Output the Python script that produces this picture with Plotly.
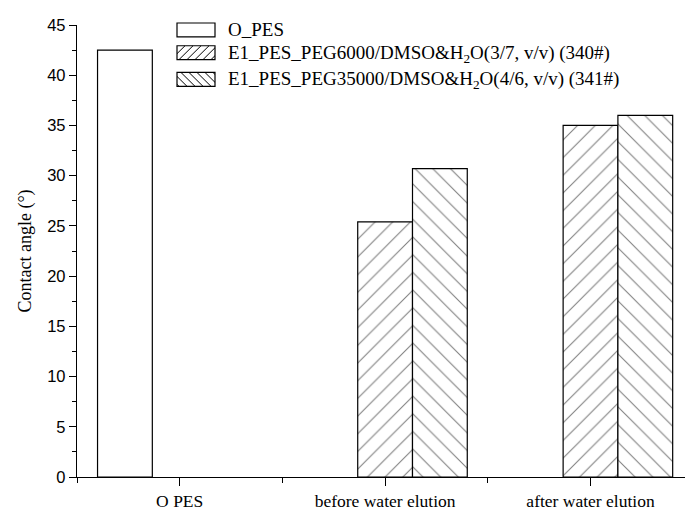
import plotly.graph_objects as go

# Categories on the x axis and contact angles (degrees) per membrane
categories = ["O PES", "before water elution", "after water elution"]
series_names = [
    "O_PES",
    "E1_PES_PEG6000/DMSO&amp;H<sub>2</sub>O(3/7, v/v) (340#)",
    "E1_PES_PEG35000/DMSO&amp;H<sub>2</sub>O(4/6, v/v) (341#)",
]
o_pes = [42.5, None, None]
pes_340 = [None, 25.4, 35.0]
pes_341 = [None, 30.7, 36.0]
patterns = ["", "/", "\\"]
y_ticks = [0, 5, 10, 15, 20, 25, 30, 35, 40, 45]

W, H = 685, 511
ML, MR, MT, MB = 77, 0, 25, 29
SERIF = "Liberation Serif, Times New Roman, serif"
SANS = "Liberation Sans, Arial, sans-serif"

x_pos = list(range(len(categories)))
fig = go.Figure()
for name, vals, pat in zip(series_names, [o_pes, pes_340, pes_341], patterns):
    fig.add_trace(go.Bar(
        x=x_pos, y=vals, name=name, showlegend=False,
        marker=dict(
            color="white",
            line=dict(color="black", width=1.2),
            pattern=dict(shape=pat, fgcolor="black", bgcolor="white",
                         size=12.5, solidity=0.085),
        ),
    ))

# Hand-drawn legend: wide swatches with hatching, text to the right
pw, ph = W - ML - MR, H - MT - MB


def px_to_paper(px, py):
    return (px - ML) / pw, (H - MB - py) / ph


shapes = []
annotations = []
sw_left, sw_w, sw_h = 177, 38, 14
row_centers = [30, 53, 80]
text_centers = [30, 54, 81]
step = 8
for name, pat, cy, ty_px in zip(series_names, patterns, row_centers, text_centers):
    top = cy - sw_h / 2
    x0, y0 = px_to_paper(sw_left, top + sw_h)
    x1, y1 = px_to_paper(sw_left + sw_w, top)
    # hatching inside the swatch (local coords, y up from swatch bottom)
    if pat:
        c = -sw_h
        while c <= sw_w + sw_h:
            if pat == "/":
                xa, xb = max(0, c), min(sw_w, sw_h + c)
                pts = [(xa, xa - c), (xb, xb - c)]
            else:
                xa, xb = max(0, c - sw_h), min(sw_w, c)
                pts = [(xa, c - xa), (xb, c - xb)]
            if xb > xa + 0.5:
                (ax, ay), (bx, by) = pts
                pa = px_to_paper(sw_left + ax, top + sw_h - ay)
                pb = px_to_paper(sw_left + bx, top + sw_h - by)
                shapes.append(dict(type="line", xref="paper", yref="paper",
                                   x0=pa[0], y0=pa[1], x1=pb[0], y1=pb[1],
                                   line=dict(color="black", width=1)))
            c += step
    shapes.append(dict(type="rect", xref="paper", yref="paper",
                       x0=x0, y0=y0, x1=x1, y1=y1,
                       line=dict(color="black", width=1.2)))
    tx, ty = px_to_paper(226, ty_px)
    annotations.append(dict(xref="paper", yref="paper", x=tx, y=ty,
                            xanchor="left", yanchor="middle", showarrow=False,
                            text=name, font=dict(family=SERIF, size=19, color="black")))

fig.update_layout(
    width=W, height=H,
    margin=dict(l=ML, r=MR, t=MT, b=MB),
    paper_bgcolor="white", plot_bgcolor="white",
    barmode="group", bargap=0.2, bargroupgap=0,
    shapes=shapes, annotations=annotations,
    xaxis=dict(
        range=[-0.5, 2.46], tickvals=x_pos, ticktext=categories,
        showline=True, linecolor="black", linewidth=1.3,
        ticks="outside", ticklen=8, tickwidth=1.3, tickcolor="black",
        minor=dict(dtick=0.5, tick0=0, ticks="outside", ticklen=5,
                   tickwidth=1.3, tickcolor="black"),
        showgrid=False, zeroline=False,
        tickfont=dict(family=SERIF, size=17.5, color="black"),
    ),
    yaxis=dict(
        range=[0, 45], tickvals=y_ticks,
        showline=True, linecolor="black", linewidth=1.3,
        ticks="outside", ticklen=7, tickwidth=1.3, tickcolor="black",
        minor=dict(dtick=2.5, tick0=0, ticks="outside", ticklen=4,
                   tickwidth=1.3, tickcolor="black"),
        showgrid=False, zeroline=False,
        tickfont=dict(family=SANS, size=16.5, color="black"),
        title=dict(text="Contact angle (°)", standoff=10,
                   font=dict(family=SERIF, size=18, color="black")),
    ),
)

fig.write_html("out.html")
